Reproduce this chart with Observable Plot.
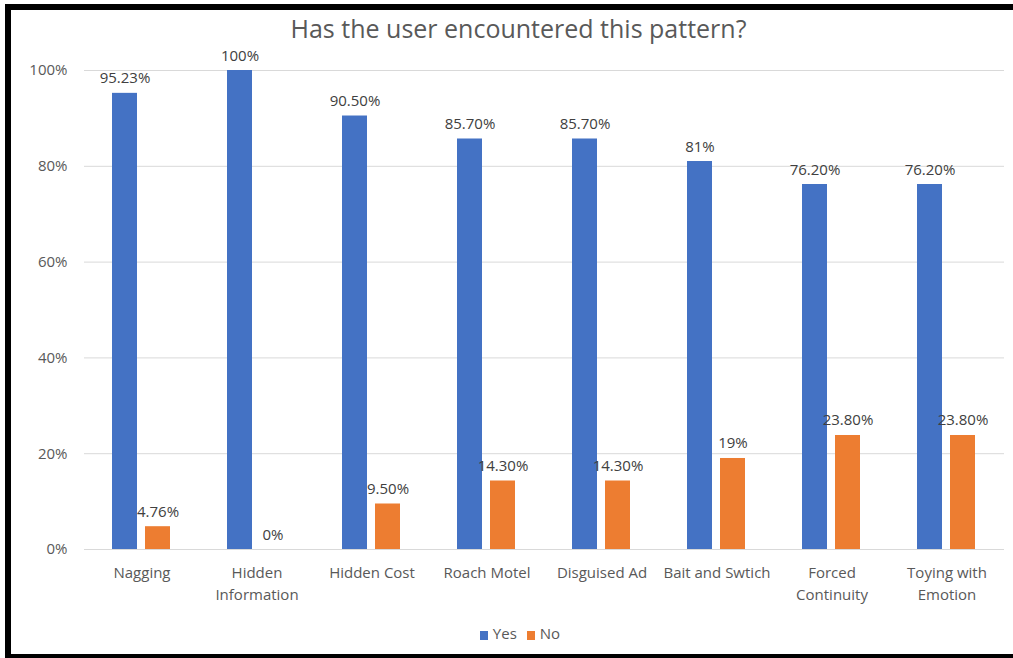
<!DOCTYPE html>
<html>
<head>
<meta charset="utf-8">
<script src="https://cdn.jsdelivr.net/npm/d3@7"></script>
<script src="https://cdn.jsdelivr.net/npm/@observablehq/plot@0.6"></script>
<style>
  html, body { margin: 0; padding: 0; background: #fff; overflow: hidden; }
  #wrap { position: relative; width: 1013px; height: 658px; overflow: hidden; background: #fff; font-family: "Open Sans", sans-serif; }
  .bd { position: absolute; background: #000; }
  #title { position: absolute; left: 0; top: 11px; width: 1037px; text-align: center; font-size: 25px; line-height: 34px; color: #595959; }
  #chart { position: absolute; left: 0; top: 40px; }
  #legend { position: absolute; left: 0; top: 622px; width: 1040px; text-align: center; font-size: 15px; line-height: 22px; color: #595959; }
  .sw { display: inline-block; width: 8px; height: 9px; margin-right: 5px; vertical-align: -0.5px; }
  .item { margin: 0 5px; }
</style>
</head>
<body>
<div id="wrap">
  <div id="title">Has the user encountered this pattern?</div>
  <div id="chart"></div>
  <div id="legend"></div>
  <div class="bd" style="left:5px;top:4px;width:1008px;height:6px;"></div>
  <div class="bd" style="left:5px;top:4px;width:6px;height:654px;"></div>
  <div class="bd" style="left:5px;top:654px;width:1008px;height:4px;"></div>
</div>
<script>
const categories = ["Nagging", "Hidden\nInformation", "Hidden Cost", "Roach Motel", "Disguised Ad", "Bait and Swtich", "Forced\nContinuity", "Toying with\nEmotion"];
const series = ["Yes", "No"];
const yesValues = [95.23, 100, 90.5, 85.7, 85.7, 81, 76.2, 76.2];
const noValues = [4.76, 0, 9.5, 14.3, 14.3, 19, 23.8, 23.8];
const yesLabels = ["95.23%", "100%", "90.50%", "85.70%", "85.70%", "81%", "76.20%", "76.20%"];
const noLabels = ["4.76%", "0%", "9.50%", "14.30%", "14.30%", "19%", "23.80%", "23.80%"];
const colors = ["#4472C4", "#ED7D31"];
const yTicks = [0, 20, 40, 60, 80, 100];

const rows = categories.flatMap((c, i) => [
  {category: c, series: "Yes", value: yesValues[i], label: yesLabels[i]},
  {category: c, series: "No", value: noValues[i], label: noLabels[i]}
]);

const chart = Plot.plot({
  width: 1013,
  height: 576,
  marginTop: 30,
  marginBottom: 67,
  marginLeft: 82,
  marginRight: 8,
  style: {fontFamily: "Open Sans, sans-serif", fontSize: "15px", color: "#595959", background: "transparent", overflow: "visible"},
  facet: {data: rows, x: "category", marginBottom: 67},
  fx: {domain: categories, padding: 0, axis: null, label: null},
  x: {domain: series, paddingInner: 0.24, paddingOuter: 0.84, axis: null, label: null},
  y: {domain: [0, 100], ticks: 5, tickFormat: d => d + "%", tickSize: 0, tickPadding: 17, label: null},
  color: {domain: series, range: colors},
  marks: [
    Plot.ruleY(yTicks, {stroke: "#d9d9d9", strokeWidth: 1}),
    Plot.barY(rows, {x: "series", y: "value", fill: "series"}),
    Plot.text(rows, {x: "series", y: "value", text: "label", dy: -10, lineAnchor: "bottom", fill: "#404040"}),
    Plot.text(rows, {filter: d => d.series === "Yes", text: "category", frameAnchor: "bottom", lineAnchor: "top", dy: 13, lineHeight: 1.45, fill: "#595959"})
  ]
});
document.getElementById("chart").appendChild(chart);

const legend = document.getElementById("legend");
series.forEach((s, i) => {
  const item = document.createElement("span");
  item.className = "item";
  const sw = document.createElement("span");
  sw.className = "sw";
  sw.style.background = colors[i];
  item.appendChild(sw);
  item.appendChild(document.createTextNode(s));
  legend.appendChild(item);
});
</script>
</body>
</html>
